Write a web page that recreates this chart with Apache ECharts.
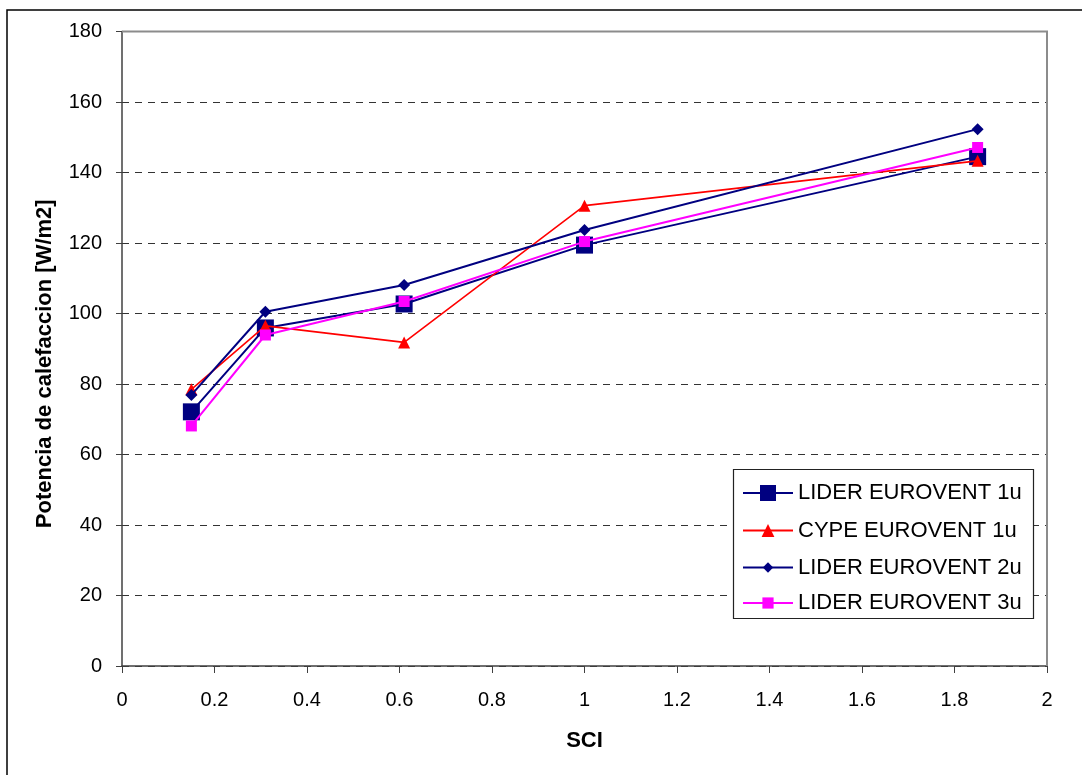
<!DOCTYPE html>
<html>
<head>
<meta charset="utf-8">
<script src="https://cdn.jsdelivr.net/npm/echarts@6/dist/echarts.min.js"></script>
<style>
  html, body { margin: 0; padding: 0; background: #fff; }
  #chart { width: 1082px; height: 775px; }
</style>
</head>
<body>
<div id="chart"></div>
<script>
// SCI values on the horizontal axis
const sci = [0.15, 0.31, 0.61, 1.0, 1.85];

// Heating power [W/m2] per simulation case
const liderEurovent1u = [72.1, 95.9, 102.7, 119.4, 144.5];
const cypeEurovent1u  = [78.5, 96.5, 91.8, 130.6, 143.3];
const liderEurovent2u = [76.9, 100.5, 108.1, 123.7, 152.3];
const liderEurovent3u = [68.1, 93.9, 103.4, 120.4, 147.1];

const seriesNames = ['LIDER EUROVENT 1u', 'CYPE EUROVENT 1u', 'LIDER EUROVENT 2u', 'LIDER EUROVENT 3u'];

const font = 'Arial, "Liberation Sans", sans-serif';
const grid = { left: 122, top: 31.5, right: 35, bottom: 109 };

function pairs(ys) { return sci.map((x, i) => [x, ys[i]]); }

const chart = echarts.init(document.getElementById('chart'), null, { renderer: 'canvas' });

const styles = [
  { color: '#000080', symbol: 'rect', size: 17, legendH: 20 },
  { color: '#FF0000', symbol: 'triangle', size: 12, legendH: 16 },
  { color: '#000080', symbol: 'diamond', size: 12, legendH: 13 },
  { color: '#FF00FF', symbol: 'rect', size: 11, legendH: 14 }
];
const values = [liderEurovent1u, cypeEurovent1u, liderEurovent2u, liderEurovent3u];
const rowCenters = [492, 527.5, 563, 599];

const series = values.map((v, i) => ({
  name: seriesNames[i],
  type: 'line',
  data: pairs(v),
  symbol: styles[i].symbol,
  symbolSize: styles[i].size,
  lineStyle: { color: styles[i].color, width: i === 1 ? 1.6 : 2 },
  itemStyle: { color: styles[i].color },
  animation: false,
  z: 3 + i
}));

// One legend per series so each icon keeps its own marker size
const legends = seriesNames.map((name, i) => ({
  data: [name],
  left: 742,
  top: rowCenters[i] - styles[i].legendH / 2,
  padding: 0,
  itemWidth: 50,
  itemHeight: styles[i].legendH,
  itemGap: 5,
  selectedMode: false,
  z: 10,
  textStyle: { fontFamily: font, fontSize: 22, color: '#000' }
}));

const plotW = 1082 - grid.left - grid.right;

chart.setOption({
  backgroundColor: '#fff',
  animation: false,
  grid: grid,
  legend: legends,
  xAxis: {
    type: 'value',
    min: 0, max: 2, interval: 0.2,
    name: 'SCI',
    nameLocation: 'middle',
    nameGap: 64,
    nameTextStyle: { fontFamily: font, fontSize: 22, fontWeight: 'bold', color: '#000' },
    axisLine: { show: true, lineStyle: { color: '#404040', width: 1.5 } },
    axisTick: { show: true, length: 7, lineStyle: { color: '#404040' } },
    axisLabel: { fontFamily: font, fontSize: 20, color: '#000', margin: 24 },
    splitLine: { show: false }
  },
  yAxis: {
    type: 'value',
    min: 0, max: 180, interval: 20,
    name: 'Potencia de calefaccion [W/m2]',
    nameLocation: 'middle',
    nameGap: 66,
    nameRotate: 90,
    nameTextStyle: { fontFamily: font, fontSize: 22, fontWeight: 'bold', color: '#000', padding: [0, 30, 0, 0] },
    axisLine: { show: true, lineStyle: { color: '#404040', width: 1.5 } },
    axisTick: { show: true, length: 6, lineStyle: { color: '#404040' } },
    axisLabel: { fontFamily: font, fontSize: 20, color: '#000', margin: 20 },
    splitLine: { show: true, lineStyle: { color: '#333', width: 1, type: [7, 6] } }
  },
  graphic: [
    // outer chart frame
    { type: 'rect', z: 100, silent: true,
      shape: { x: 7, y: 10, width: 1100, height: 800 },
      style: { fill: null, stroke: '#000', lineWidth: 1.5 } },
    // top and right edges of the plot area
    { type: 'polyline', z: 100, silent: true,
      shape: { points: [[grid.left, grid.top], [grid.left + plotW, grid.top], [grid.left + plotW, 775 - grid.bottom]] },
      style: { fill: null, stroke: '#8c8c8c', lineWidth: 2 } },
    // legend frame with white backing over the grid lines
    { type: 'rect', z: 8, silent: true,
      shape: { x: 733.5, y: 469.5, width: 300, height: 149 },
      style: { fill: '#fff', stroke: '#222', lineWidth: 1.2 } }
  ],
  series: series
});
</script>
</body>
</html>
